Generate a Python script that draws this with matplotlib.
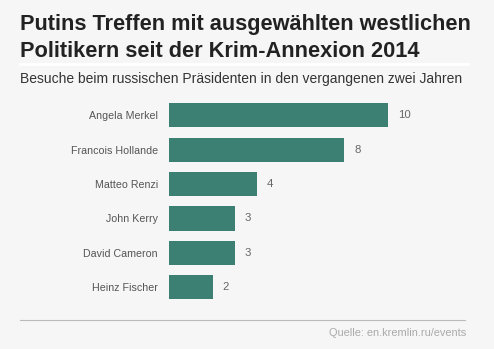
import matplotlib.pyplot as plt

namen = ['Angela Merkel', 'Francois Hollande', 'Matteo Renzi',
         'John Kerry', 'David Cameron', 'Heinz Fischer']
besuche = [10, 8, 4, 3, 3, 2]

titel = ['Putins Treffen mit ausgewählten westlichen',
         'Politikern seit der Krim-Annexion 2014']
untertitel = 'Besuche beim russischen Präsidenten in den vergangenen zwei Jahren'
quelle = 'Quelle: en.kremlin.ru/events'

W, H = 494, 349
hg = '#f6f6f6'
plt.rcParams['font.family'] = ['Liberation Sans', 'DejaVu Sans']

fig = plt.figure(figsize=(W / 100, H / 100), dpi=100, facecolor=hg)

# Achse in Pixelkoordinaten platziert
ax = fig.add_axes([169 / W, 1 - 304.5 / H, 219 / W, 206.5 / H])
ax.set_facecolor(hg)
pos = range(len(namen))
ax.barh(pos, besuche, height=0.7, color='#3c7f73')
ax.set_xlim(0, 10)
ax.set_ylim(len(namen) - 0.5, -0.5)
ax.set_yticks(list(pos))
ax.set_yticklabels(namen, fontsize=7.7, color='#555555')
ax.tick_params(axis='y', length=0, pad=8)
ax.set_xticks([])
for s in ax.spines.values():
    s.set_visible(False)
for i, v in enumerate(besuche):
    ax.annotate(str(v), (v, i), xytext=(7.2, 0), textcoords='offset points',
                va='center', ha='left', fontsize=8.2, color='#666666')

# Titel zeilenweise auf Grundlinie gesetzt
for zeile, y in zip(titel, [30, 57]):
    fig.text(20 / W, 1 - y / H, zeile, fontsize=15.7, fontweight='bold',
             color='#222222', va='baseline', ha='left')
fig.add_artist(plt.Line2D([20 / W, 468 / W], [1 - 63.5 / H] * 2,
                          color='white', lw=2))
fig.text(20 / W, 1 - 83 / H, untertitel, fontsize=10.0, color='#333333',
         va='baseline', ha='left')
fig.add_artist(plt.Line2D([20 / W, 465 / W], [1 - 319.5 / H] * 2,
                          color='#bbbbbb', lw=0.8))
fig.text(466 / W, 1 - 335.5 / H, quelle, fontsize=7.9, color='#aaaaaa',
         va='baseline', ha='right')

fig.savefig('out.png', dpi=100, facecolor=hg)
